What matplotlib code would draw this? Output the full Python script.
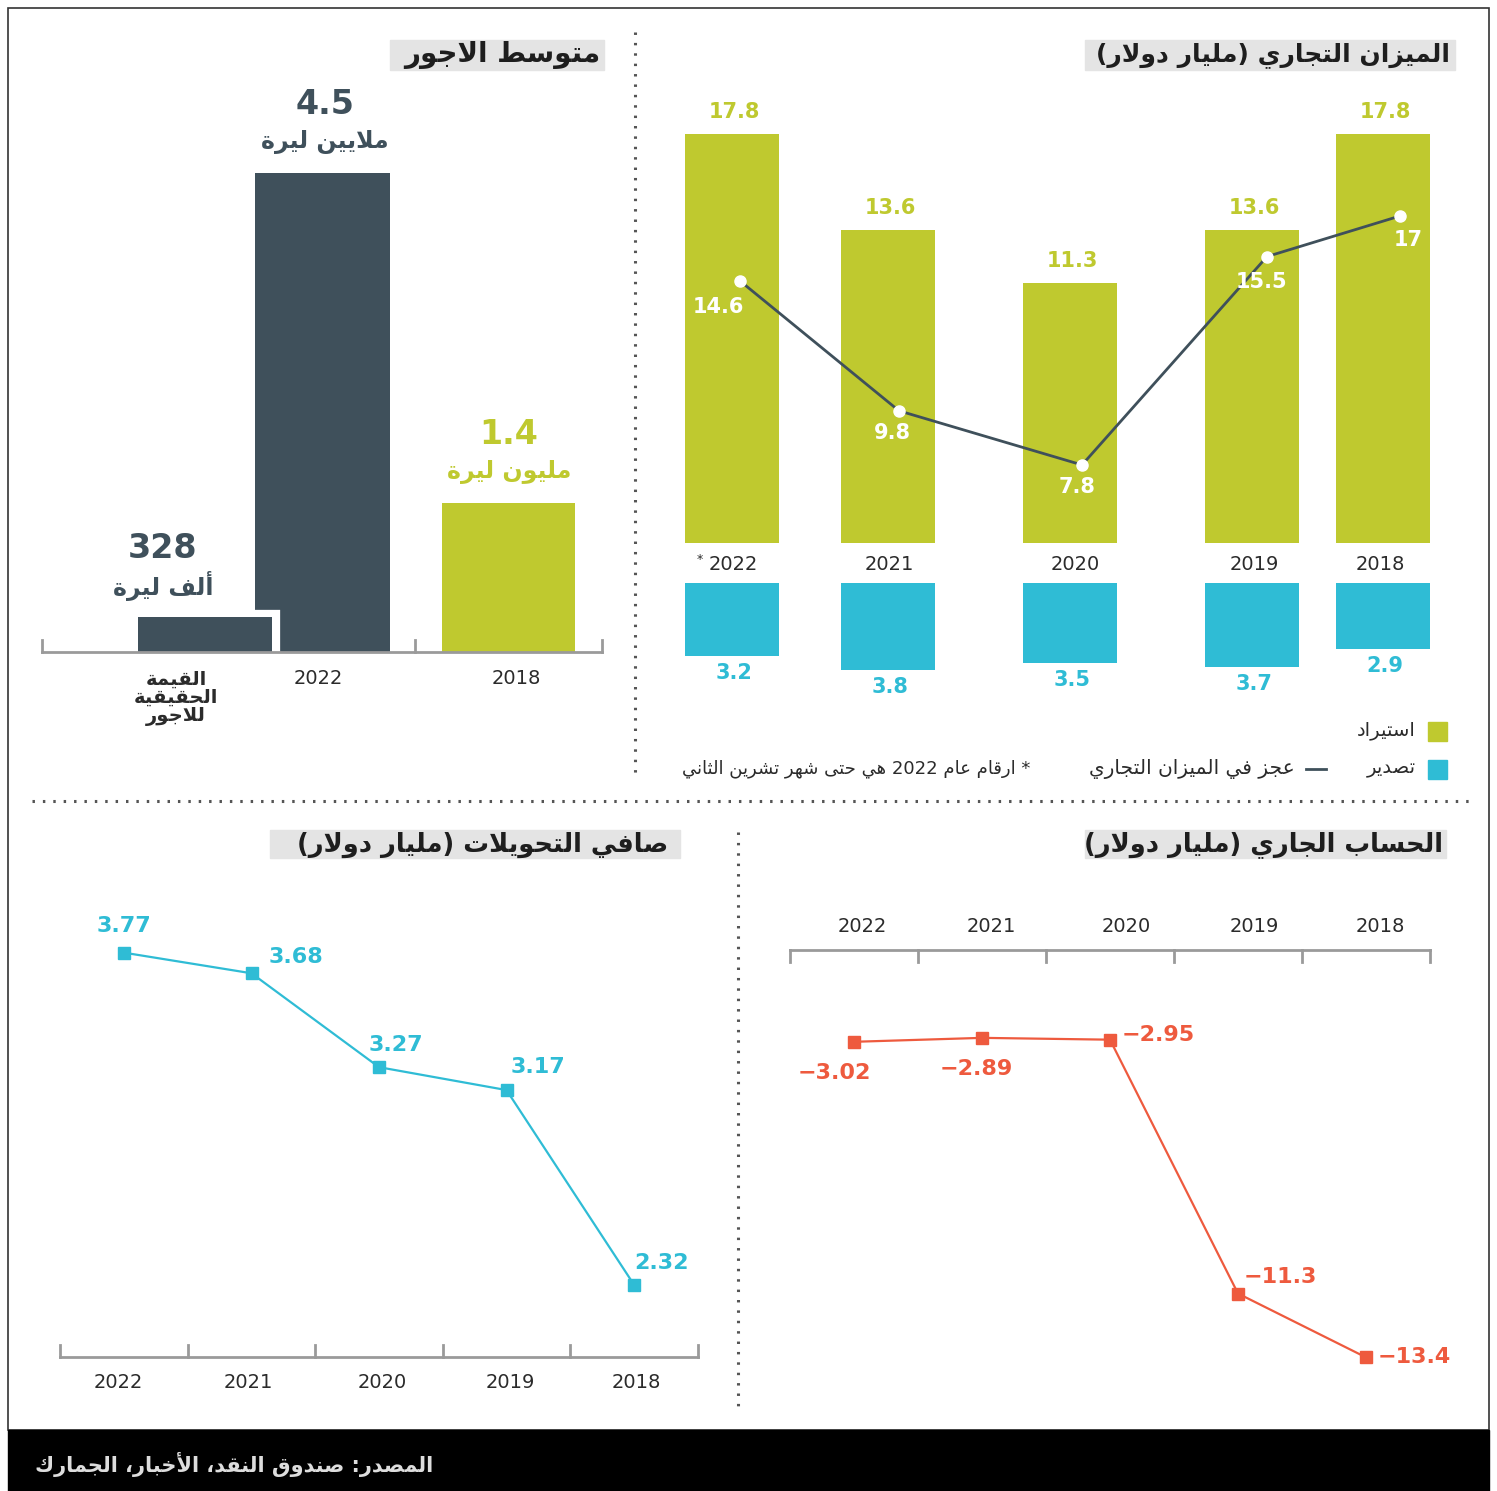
import re
import matplotlib
matplotlib.use("Agg")
import matplotlib.pyplot as plt
import matplotlib.patheffects as pe
from matplotlib.patches import Rectangle

plt.rcParams['font.family'] = ['DejaVu Sans']

# --- data -------------------------------------------------------------
wage_cats = ['القيمة\nالحقيقية\nللاجور', '2022', '2018']
wage_values = [0.328, 4.5, 1.4]          # million lira
wage_units = ['ألف ليرة', 'ملايين ليرة', 'مليون ليرة']

years = ['2022', '2021', '2020', '2019', '2018']
imports = [17.8, 13.6, 11.3, 13.6, 17.8]
exports = [3.2, 3.8, 3.5, 3.7, 2.9]
deficit = [14.6, 9.8, 7.8, 15.5, 17]
current_account = [-3.02, -2.89, -2.95, -11.3, -13.4]
transfers = [3.77, 3.68, 3.27, 3.17, 2.32]

# --- colours ----------------------------------------------------------
DARK = '#3f505b'
GREEN = '#bfc92f'
CYAN = '#2fbcd5'
RED = '#ee5a3e'
TXT = '#2b2b2b'
AXIS = '#9a9a9a'
HILITE = '#e4e4e4'

# --- minimal Arabic shaping (presentation forms + RTL order) ----------
# dual-joining letters: isolated, final, initial, medial follow the base code
DUAL = {'ئ': 0xFE89, 'ب': 0xFE8F, 'ت': 0xFE95, 'ث': 0xFE99, 'ج': 0xFE9D,
        'ح': 0xFEA1, 'خ': 0xFEA5, 'س': 0xFEB1, 'ش': 0xFEB5, 'ص': 0xFEB9,
        'ض': 0xFEBD, 'ط': 0xFEC1, 'ظ': 0xFEC5, 'ع': 0xFEC9, 'غ': 0xFECD,
        'ف': 0xFED1, 'ق': 0xFED5, 'ك': 0xFED9, 'ل': 0xFEDD, 'م': 0xFEE1,
        'ن': 0xFEE5, 'ه': 0xFEE9, 'ي': 0xFEF1}
# right-joining letters: isolated, final
RIGHT = {'آ': 0xFE81, 'أ': 0xFE83, 'ؤ': 0xFE85, 'إ': 0xFE87, 'ا': 0xFE8D,
         'ة': 0xFE93, 'د': 0xFEA9, 'ذ': 0xFEAB, 'ر': 0xFEAD, 'ز': 0xFEAF,
         'و': 0xFEED, 'ى': 0xFEEF}
LAM_ALEF = {'آ': 0xFEF5, 'أ': 0xFEF7, 'إ': 0xFEF9, 'ا': 0xFEFB}
FORM = {(False, False): 0, (True, False): 1, (False, True): 2, (True, True): 3}
MIRROR = {'(': ')', ')': '('}


def _shape(line):
    toks, i = [], 0
    while i < len(line):
        if line[i] == 'ل' and i + 1 < len(line) and line[i + 1] in LAM_ALEF:
            toks.append(('LA', line[i + 1]))
            i += 2
        else:
            toks.append(('C', line[i]))
            i += 1

    def joins_next(t):
        return t[0] == 'C' and t[1] in DUAL

    def joinable(t):
        return t[0] == 'LA' or t[1] in DUAL or t[1] in RIGHT

    out = []
    for k, t in enumerate(toks):
        prev = toks[k - 1] if k > 0 else None
        nxt = toks[k + 1] if k + 1 < len(toks) else None
        lp = prev is not None and joins_next(prev) and joinable(t)
        ln = nxt is not None and joins_next(t) and joinable(nxt)
        if t[0] == 'LA':
            out.append(chr(LAM_ALEF[t[1]] + lp))
        elif t[1] in DUAL:
            out.append(chr(DUAL[t[1]] + FORM[(lp, ln)]))
        elif t[1] in RIGHT:
            out.append(chr(RIGHT[t[1]] + lp))
        else:
            out.append(t[1])
    shaped = ''.join(out)
    # reverse for right-to-left, keeping number runs in reading order
    runs = re.findall(r'[0-9A-Za-z.]+|[^0-9A-Za-z.]+', shaped)
    vis = []
    for r in reversed(runs):
        if re.match(r'[0-9A-Za-z.]', r):
            vis.append(r)
        else:
            vis.append(''.join(MIRROR.get(c, c) for c in reversed(r)))
    return ''.join(vis)


def ar(text):
    return '\n'.join(_shape(l) for l in text.split('\n'))


# --- figure -----------------------------------------------------------
W, H = 1497, 1491
fig = plt.figure(figsize=(W / 100, H / 100), dpi=100)
fig.patch.set_facecolor('white')


def px_axes(x0, y0, x1, y1, z=1):
    a = fig.add_axes([x0 / W, 1 - y1 / H, (x1 - x0) / W, (y1 - y0) / H], zorder=z)
    a.set_axis_off()
    a.patch.set_alpha(0)
    return a


# overlays in pixel coordinates: one under the charts, one above them
ov = px_axes(0, 0, W, H, z=0)
ov.set_xlim(0, W)
ov.set_ylim(H, 0)
top = px_axes(0, 0, W, H, z=8)
top.set_xlim(0, W)
top.set_ylim(H, 0)

ov.add_patch(Rectangle((8, 8), 1481, 1422, fill=False, ec='#333333', lw=1.2))
ov.add_patch(Rectangle((8, 1430), 1481, 61, color='black'))
ov.text(35, 1464, ar('المصدر: صندوق النقد، الأخبار، الجمارك'), color='#dddddd',
        fontsize=15, fontweight='bold', ha='left', va='center')

dots = dict(color='#555555', lw=2.2, linestyle=(0, (0.8, 2.6)), solid_capstyle='round')
ov.plot([635, 635], [32, 775], **dots)
ov.plot([32, 1470], [801, 801], **dots)
ov.plot([738, 738], [832, 1410], **dots)


def title(x_right, y, text, box, size):
    ov.add_patch(Rectangle((box[0], box[1]), box[2] - box[0], box[3] - box[1],
                           color=HILITE, zorder=1))
    ov.text(x_right, y, ar(text), fontsize=size, fontweight='bold', color='#1e1e1e',
            ha='right', va='center', zorder=2)


title(600, 55, 'متوسط الاجور', (390, 40, 604, 70), 20)
title(1450, 55, 'الميزان التجاري (مليار دولار)', (1085, 40, 1455, 70), 18)
title(668, 845, 'صافي التحويلات (مليار دولار)', (270, 830, 680, 858), 18.5)
title(1443, 845, 'الحساب الجاري (مليار دولار)', (1085, 830, 1446, 858), 18.5)

# --- panel 1: average wages ------------------------------------------
ax1 = px_axes(42, 120, 602, 652, z=2)
ax1.set_xlim(42, 602)
ax1.set_ylim(0, 5)
wage_x = [205, 322.5, 508.5]
wage_w = [134, 135, 133]
wage_col = [DARK, DARK, GREEN]
ax1.bar(wage_x[1], wage_values[1], width=wage_w[1], color=wage_col[1], zorder=2)
ax1.bar(wage_x[2], wage_values[2], width=wage_w[2], color=wage_col[2], zorder=2)
small = ax1.bar(wage_x[0], wage_values[0], width=wage_w[0], color=wage_col[0], zorder=3)
for p in small:
    p.set_path_effects([pe.Stroke(linewidth=11, foreground='white'), pe.Normal()])

top.plot([42, 602], [652, 652], color=AXIS, lw=2)
for tx in (42, 415, 602):
    top.plot([tx, tx], [652, 640], color=AXIS, lw=2)

wage_num = [f"{round(wage_values[0] * 1000)}", f"{wage_values[1]:g}", f"{wage_values[2]:g}"]
label_x = [163, 325, 509]
label_col = [DARK, DARK, GREEN]
for i in range(3):
    ax1.annotate(wage_num[i], (label_x[i], wage_values[i]), xytext=(0, 69),
                 textcoords='offset pixels', ha='center', va='center',
                 fontsize=24, fontweight='bold', color=label_col[i], zorder=6)
    ax1.annotate(ar(wage_units[i]), (label_x[i], wage_values[i]), xytext=(0, 31),
                 textcoords='offset pixels', ha='center', va='center',
                 fontsize=17, fontweight='bold', color=label_col[i], zorder=6)

ov.text(176, 698, ar(wage_cats[0]), ha='center', va='center', fontsize=14,
        color=TXT, fontweight='bold', linespacing=0.95)
ov.text(318, 678, wage_cats[1], ha='center', va='center', fontsize=14, color=TXT)
ov.text(516, 678, wage_cats[2], ha='center', va='center', fontsize=14, color=TXT)

# --- panel 2: trade balance -------------------------------------------
slot_x = [732, 888, 1070, 1252, 1383]
line_x = [740, 899, 1082, 1267, 1400]
bar_w = 94

ax_imp = px_axes(660, 83, 1460, 543, z=2)
ax_imp.set_xlim(660, 1460)
ax_imp.set_ylim(0, 20)
ax_imp.bar(slot_x, imports, width=bar_w, color=GREEN)
for x, v in zip(slot_x, imports):
    ax_imp.annotate(f"{v:g}", (x, v), xytext=(2, 22), textcoords='offset pixels',
                    ha='center', va='center', fontsize=15, fontweight='bold', color=GREEN)

ax_exp = px_axes(660, 583, 1460, 697, z=2)
ax_exp.set_xlim(660, 1460)
ax_exp.set_ylim(-5, 0)
ax_exp.bar(slot_x, [-v for v in exports], width=bar_w, color=CYAN)
for x, v in zip(slot_x, exports):
    ax_exp.annotate(f"{v:g}", (x, -v), xytext=(2, -17), textcoords='offset pixels',
                    ha='center', va='center', fontsize=15, fontweight='bold', color=CYAN)

year_lbl_x = [733, 889, 1075, 1254, 1380]
for x, y in zip(year_lbl_x, years):
    ov.text(x, 565, y, ha='center', va='center', fontsize=14, color=TXT)
ov.text(700, 559, '*', ha='center', va='center', fontsize=9, color=TXT)

ax_line = px_axes(660, 83, 1460, 676, z=3)
ax_line.set_xlim(660, 1460)
ax_line.set_ylim(0, 593 / 27.06)
ax_line.plot(line_x, deficit, color=DARK, lw=2, zorder=3)
ax_line.plot(line_x, deficit, 'o', ms=8, color='white', mec='white', zorder=4)
def_off = [(-22, -26), (-7, -22), (-5, -22), (-5, -25), (8, -24)]
for x, v, off in zip(line_x, deficit, def_off):
    ax_line.annotate(f"{v:g}", (x, v), xytext=off, textcoords='offset pixels',
                     ha='center', va='center', fontsize=15, fontweight='bold', color='white')

# legend
ov.add_patch(Rectangle((1428, 722), 19, 19, color=GREEN))
ov.text(1416, 731, ar('استيراد'), ha='right', va='center', fontsize=14, color=TXT)
ov.add_patch(Rectangle((1428, 760), 19, 19, color=CYAN))
ov.text(1416, 769, ar('تصدير'), ha='right', va='center', fontsize=14, color=TXT)
ov.plot([1306, 1326], [769, 769], color=DARK, lw=2)
ov.text(1295, 769, ar('عجز في الميزان التجاري'), ha='right', va='center',
        fontsize=14.5, color=TXT)
ov.text(1030, 769, ar('* ارقام عام 2022 هي حتى شهر تشرين الثاني'), ha='right',
        va='center', fontsize=13, color=TXT)

# --- panel 3: current account -----------------------------------------
ax_ca = px_axes(790, 950, 1430, 1406, z=2)
ax_ca.set_xlim(790, 1430)
ax_ca.set_ylim(-15, 0)
ca_edges = [790, 918, 1046, 1174, 1302, 1430]
ca_x = [(a + b) / 2 for a, b in zip(ca_edges[:-1], ca_edges[1:])]
ax_ca.plot(ca_x, current_account, color=RED, lw=1.6, marker='s', ms=9, zorder=3)
ca_off = [(-20, -31), (-6, -31), (48, 5), (42, 17), (48, 0)]
for x, v, off in zip(ca_x, current_account, ca_off):
    ax_ca.annotate(f"{v:g}".replace('-', '\u2212'), (x, v), xytext=off,
                   textcoords='offset pixels', ha='center', va='center',
                   fontsize=16, fontweight='bold', color=RED)

top.plot([790, 1430], [950, 950], color=AXIS, lw=2)
for tx in ca_edges:
    top.plot([tx, tx], [950, 962], color=AXIS, lw=2)
for x, y in zip([862, 991, 1126, 1254, 1380], years):
    ov.text(x, 926, y, ha='center', va='center', fontsize=14, color=TXT)

# --- panel 4: net transfers -------------------------------------------
ax_tr = px_axes(60, 900, 698, 1358, z=2)
ax_tr.set_xlim(60, 698)
ax_tr.set_ylim(2.0, 4.0)
tr_edges = [60, 188, 315, 443, 570, 698]
tr_x = [(a + b) / 2 for a, b in zip(tr_edges[:-1], tr_edges[1:])]
ax_tr.plot(tr_x, transfers, color=CYAN, lw=1.6, marker='s', ms=9, zorder=3)
tr_off = [(0, 27), (44, 16), (17, 22), (31, 23), (27, 22)]
for x, v, off in zip(tr_x, transfers, tr_off):
    ax_tr.annotate(f"{v:g}", (x, v), xytext=off, textcoords='offset pixels',
                   ha='center', va='center', fontsize=16, fontweight='bold', color=CYAN)

top.plot([60, 698], [1357, 1357], color=AXIS, lw=2)
for tx in tr_edges:
    top.plot([tx, tx], [1357, 1345], color=AXIS, lw=2)
for x, y in zip([118, 248, 382, 510, 636], years):
    ov.text(x, 1383, y, ha='center', va='center', fontsize=14, color=TXT)

fig.savefig('out.png', dpi=100, facecolor='white')
